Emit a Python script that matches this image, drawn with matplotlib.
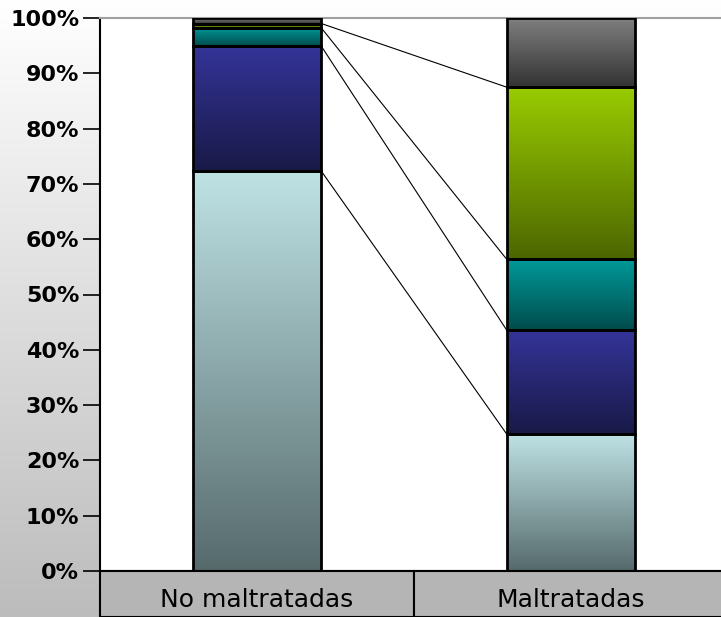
import numpy as np
import matplotlib.pyplot as plt
import matplotlib.transforms as mtransforms
from matplotlib.colors import LinearSegmentedColormap
from matplotlib.patches import Rectangle

# =====================================================
#   data (percent of each group, series bottom -> top)
# =====================================================

categories = ["No maltratadas", "Maltratadas"]

s1 = [72.3, 24.8]
s2 = [22.6, 18.8]
s3 = [3.3, 12.8]
s4 = [0.8, 31.1]
s5 = [1.0, 12.5]
series = [s1, s2, s3, s4, s5]

# (top colour, bottom colour) of each gradient
colours = [
    ("#bfe3e5", "#566a6c"),
    ("#343499", "#191947"),
    ("#009999", "#004c4c"),
    ("#99cc00", "#4c6600"),
    ("#808080", "#333333"),
]

yticks = np.arange(0, 101, 10)
ytick_labels = [f"{t}%" for t in yticks]

# =====================================================
# figure
# =====================================================

W, H = 721, 617
fig = plt.figure(figsize=(W / 100, H / 100), dpi=100)

# grey gradient background
bg = fig.add_axes([0, 0, 1, 1], zorder=-10)
bg_cmap = LinearSegmentedColormap.from_list("bg", ["#bcbcbc", "#ffffff"])
bg.imshow(np.linspace(0, 1, 256).reshape(-1, 1), cmap=bg_cmap, aspect="auto",
          origin="lower", extent=[0, 1, 0, 1])
bg.set_axis_off()

left, right, bottom, top = 100, 721, 571, 18
ax = fig.add_axes([left / W, 1 - bottom / H, (right - left) / W, (bottom - top) / H])
ax.set_facecolor("white")

x = np.arange(len(categories))
width = 0.41
grad = np.linspace(0, 1, 256).reshape(-1, 1)

cum = np.zeros(len(categories))
tops = []
for vals, (c_top, c_bot) in zip(series, colours):
    vals = np.array(vals)
    cmap = LinearSegmentedColormap.from_list("g", [c_bot, c_top])
    for xi, b, v in zip(x, cum, vals):
        ax.imshow(grad, cmap=cmap, aspect="auto", origin="lower",
                  extent=[xi - width / 2, xi + width / 2, b, b + v], zorder=2)
    ax.bar(x, vals, width, bottom=cum, fill=False, edgecolor="black",
           linewidth=2, zorder=3)
    cum = cum + vals
    tops.append(cum.copy())

# series lines between the bars
for t in tops[:-1]:
    ax.plot([x[0] + width / 2, x[1] - width / 2], [t[0], t[1]],
            color="black", linewidth=0.8, zorder=1)

ax.set_xlim(-0.5, 1.478)
ax.set_ylim(0, 100)
ax.set_yticks(yticks)
ax.set_yticklabels(ytick_labels, fontsize=16, fontweight="bold",
                   family="DejaVu Sans")
ax.set_xticks([])
ax.tick_params(axis="y", direction="out", length=12, width=1.2, pad=3)

ax.spines["right"].set_visible(False)
ax.spines["top"].set_color("#a0a0a0")
ax.spines["top"].set_linewidth(1.5)
ax.spines["left"].set_linewidth(1.5)
ax.spines["bottom"].set_linewidth(1.5)

# category boxes under the axis
trans = mtransforms.blended_transform_factory(ax.transData, ax.transAxes)
box_h = (H - bottom) / (bottom - top)
for i, name in enumerate(categories):
    ax.add_patch(Rectangle((i - 0.5, -box_h), 1, box_h, transform=trans,
                           facecolor="#b5b5b5", edgecolor="black",
                           linewidth=1.5, clip_on=False, zorder=5))
    ax.text(i, -box_h * 0.62, name, transform=trans, ha="center", va="center",
            fontsize=18, family="DejaVu Sans", zorder=6)

plt.savefig("out.png", dpi=100)
plt.close()
